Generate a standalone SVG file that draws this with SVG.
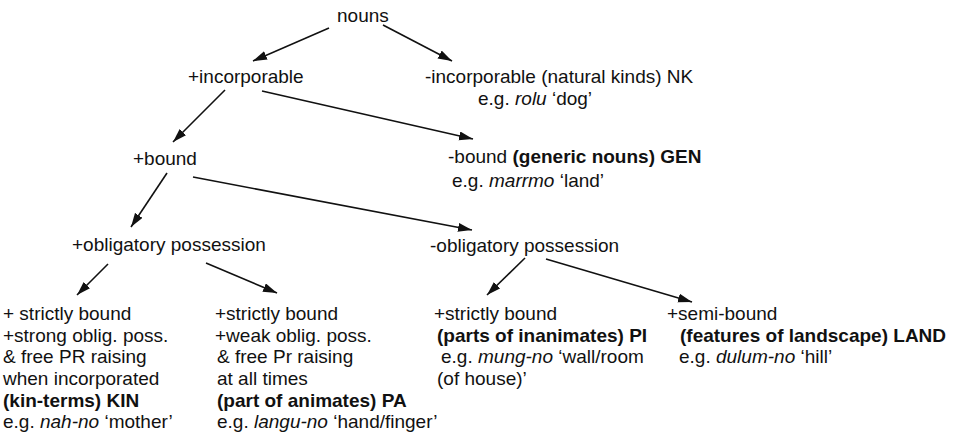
<svg xmlns="http://www.w3.org/2000/svg" width="958" height="442" viewBox="0 0 958 442">
<style>
text{font-family:"Liberation Sans",Arial,sans-serif;font-size:19px;fill:#111}
.b{font-weight:bold}
.i{font-style:italic}
.e{stroke:#111;stroke-width:1.6;fill:none}
</style>
<defs>
<marker id="ah" markerUnits="userSpaceOnUse" markerWidth="16" markerHeight="10" refX="14" refY="4.5" orient="auto">
<path d="M0,0 L14,4.5 L0,9 Z" fill="#111"/>
</marker>
</defs>
<rect width="958" height="442" fill="#fff"/>
<g id="connectors">
<line class="e" x1="329" y1="28" x2="253" y2="61" marker-end="url(#ah)"/>
<line class="e" x1="383" y1="25" x2="452" y2="61" marker-end="url(#ah)"/>
<line class="e" x1="225" y1="90" x2="173" y2="142" marker-end="url(#ah)"/>
<line class="e" x1="262" y1="91" x2="473" y2="139" marker-end="url(#ah)"/>
<line class="e" x1="167" y1="173" x2="131" y2="227" marker-end="url(#ah)"/>
<line class="e" x1="193" y1="177" x2="472" y2="230" marker-end="url(#ah)"/>
<line class="e" x1="108" y1="264" x2="77" y2="295" marker-end="url(#ah)"/>
<line class="e" x1="206" y1="263" x2="277" y2="293" marker-end="url(#ah)"/>
<line class="e" x1="525" y1="258" x2="487" y2="295" marker-end="url(#ah)"/>
<line class="e" x1="546" y1="259" x2="692" y2="302" marker-end="url(#ah)"/>
</g>
<g id="nouns"><text x="337" y="22">nouns</text></g>
<g id="plus-incorporable"><text x="188" y="83">+incorporable</text></g>
<g id="minus-incorporable">
<text x="425" y="83">-incorporable (natural kinds) NK</text>
<text x="478" y="105">e.g. <tspan class="i">rolu</tspan> ‘dog’</text>
</g>
<g id="plus-bound"><text x="133" y="165">+bound</text></g>
<g id="minus-bound">
<text x="448" y="163">-bound <tspan class="b">(generic nouns) GEN</tspan></text>
<text x="452" y="187">e.g. <tspan class="i">marrmo</tspan> ‘land’</text>
</g>
<g id="plus-oblig"><text x="72" y="251">+obligatory possession</text></g>
<g id="minus-oblig"><text x="430" y="252">-obligatory possession</text></g>
<g id="kin">
<text x="3" y="320">+ strictly bound</text>
<text x="3" y="342">+strong oblig. poss.</text>
<text x="3" y="363">&amp; free PR raising</text>
<text x="3" y="385">when incorporated</text>
<text x="3" y="407" class="b">(kin-terms) KIN</text>
<text x="3" y="428">e.g. <tspan class="i">nah-no</tspan> ‘mother’</text>
</g>
<g id="pa">
<text x="215" y="320">+strictly bound</text>
<text x="215" y="342">+weak oblig. poss.</text>
<text x="217" y="363">&amp; free Pr raising</text>
<text x="217" y="385">at all times</text>
<text x="217" y="407" class="b">(part of animates) PA</text>
<text x="217" y="428">e.g. <tspan class="i">langu-no</tspan> ‘hand/finger’</text>
</g>
<g id="pi">
<text x="434" y="320">+strictly bound</text>
<text x="437" y="342" class="b">(parts of inanimates) PI</text>
<text x="441" y="363">e.g. <tspan class="i">mung-no</tspan> ‘wall/room</text>
<text x="437" y="385">(of house)’</text>
</g>
<g id="land">
<text x="667" y="320">+semi-bound</text>
<text x="680" y="342" class="b">(features of landscape) LAND</text>
<text x="679" y="363">e.g. <tspan class="i">dulum-no</tspan> ‘hill’</text>
</g>
</svg>
